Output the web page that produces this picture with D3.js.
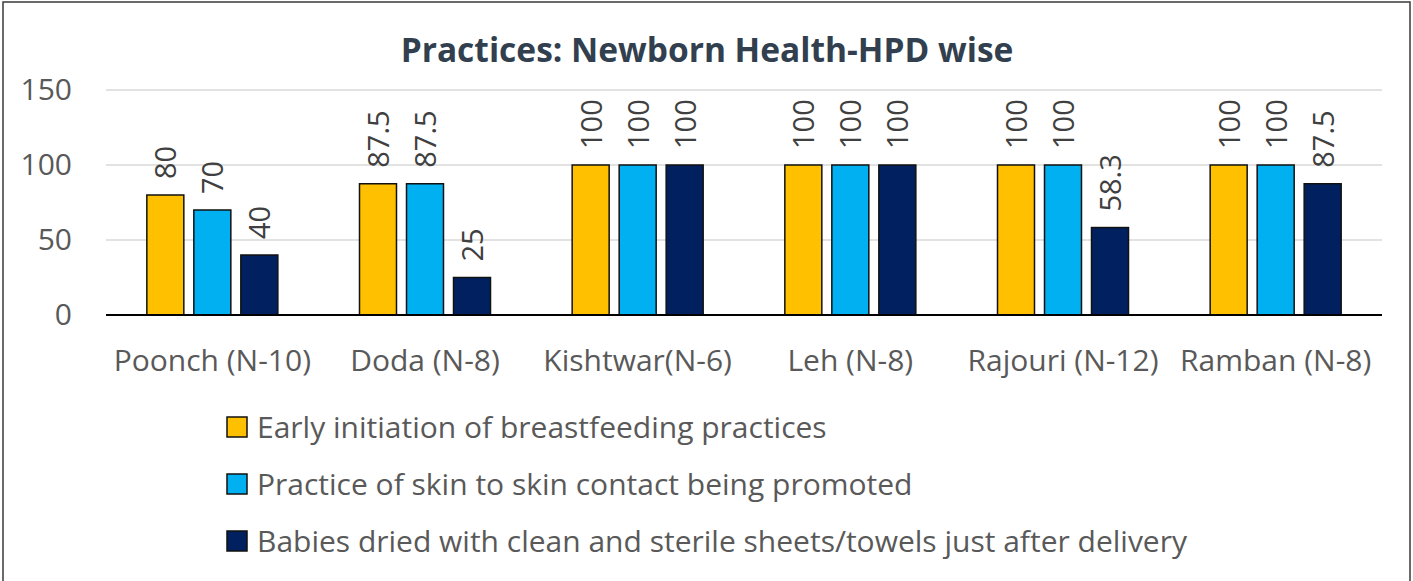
<!DOCTYPE html>
<html>
<head>
<meta charset="utf-8">
<script src="https://cdn.jsdelivr.net/npm/d3@7"></script>
<style>
  body { margin: 0; background: #fff; }
  text { font-family: "Open Sans", "Noto Sans", sans-serif; }
</style>
</head>
<body>
<div id="chart"></div>
<script>
const width = 1413;
const height = 581;
const margin = [90, 31, 266, 106]; // top, right, bottom, left

const districts = ["Poonch (N-10)", "Doda (N-8)", "Kishtwar(N-6)", "Leh (N-8)", "Rajouri (N-12)", "Ramban (N-8)"];
const seriesNames = [
  "Early initiation of breastfeeding practices",
  "Practice of skin to skin contact being promoted",
  "Babies dried with clean and sterile sheets/towels just after delivery"
];
const breastfeeding = [80, 87.5, 100, 100, 100, 100];
const skinToSkin = [70, 87.5, 100, 100, 100, 100];
const driedBabies = [40, 25, 100, 100, 58.3, 87.5];
const yTicks = [0, 50, 100, 150];
const colors = ["#FFC000", "#00B0F0", "#002060"];

const series = [breastfeeding, skinToSkin, driedBabies];
const groupWidth = 131;

const svg = d3.select("#chart").append("svg")
  .attr("width", width)
  .attr("height", height);

// frame
svg.append("rect")
  .attr("x", 3).attr("y", 2)
  .attr("width", width - 6).attr("height", height + 10)
  .attr("fill", "none")
  .attr("stroke", "#3a3a3a")
  .attr("stroke-width", 1.5);

const x0 = d3.scaleBand()
  .domain(districts)
  .range([margin[3], width - margin[1]]);

const x1 = d3.scaleBand()
  .domain(d3.range(series.length))
  .range([0, groupWidth])
  .paddingInner(0.213)
  .paddingOuter(0);

const y = d3.scaleLinear()
  .domain([0, 150])
  .range([height - margin[2], margin[0]]);

// gridlines
svg.append("g")
  .selectAll("line")
  .data(yTicks.filter(d => d > 0))
  .enter()
  .append("line")
  .attr("x1", margin[3])
  .attr("x2", width - margin[1])
  .attr("y1", d => y(d))
  .attr("y2", d => y(d))
  .attr("stroke", "#d9d9d9")
  .attr("stroke-width", 1.5);

// y axis labels
const yAxis = d3.axisLeft(y).tickValues(yTicks).tickSize(0).tickPadding(34);
svg.append("g")
  .attr("transform", "translate(" + margin[3] + ",0)")
  .call(yAxis)
  .call(g => g.select(".domain").remove())
  .selectAll("text")
  .attr("font-size", 30)
  .attr("fill", "#595959")
  .attr("font-family", "Open Sans");

// bars
const groups = svg.append("g")
  .selectAll("g")
  .data(districts)
  .enter()
  .append("g")
  .attr("transform", d => "translate(" + (x0(d) + x0.bandwidth() / 2 - groupWidth / 2) + ",0)");

groups.selectAll("rect")
  .data((d, i) => series.map((s, k) => ({ k: k, v: s[i] })))
  .enter()
  .append("rect")
  .attr("x", d => x1(d.k))
  .attr("y", d => y(d.v))
  .attr("width", x1.bandwidth())
  .attr("height", d => y(0) - y(d.v))
  .attr("fill", d => colors[d.k])
  .attr("stroke", "#111")
  .attr("stroke-width", 1.5);

groups.selectAll(".lbl")
  .data((d, i) => series.map((s, k) => ({ k: k, v: s[i] })))
  .enter()
  .append("text")
  .attr("class", "lbl")
  .attr("transform", d => "translate(" + (x1(d.k) + x1.bandwidth() / 2 + 11) + "," + (y(d.v) - 16) + ") rotate(-90)")
  .attr("font-size", 29)
  .attr("fill", "#404040")
  .text(d => d.v);

// x axis line
svg.append("line")
  .attr("x1", margin[3])
  .attr("x2", width - margin[1])
  .attr("y1", y(0))
  .attr("y2", y(0))
  .attr("stroke", "#000")
  .attr("stroke-width", 2);

// category labels
svg.append("g")
  .selectAll("text")
  .data(districts)
  .enter()
  .append("text")
  .attr("x", d => x0(d) + x0.bandwidth() / 2)
  .attr("y", 371)
  .attr("text-anchor", "middle")
  .attr("font-size", 30)
  .attr("fill", "#595959")
  .text(d => d);

// title
svg.append("text")
  .attr("x", 707)
  .attr("y", 62)
  .attr("text-anchor", "middle")
  .attr("font-size", 33.5)
  .attr("font-weight", "bold")
  .attr("fill", "#323F4F")
  .text("Practices: Newborn Health-HPD wise");

// legend
const legend = svg.append("g")
  .selectAll("g")
  .data(seriesNames)
  .enter()
  .append("g")
  .attr("transform", (d, i) => "translate(227," + (417 + i * 57) + ")");

legend.append("rect")
  .attr("width", 20)
  .attr("height", 20)
  .attr("fill", (d, i) => colors[i])
  .attr("stroke", "#111")
  .attr("stroke-width", 1.5);

legend.append("text")
  .attr("x", 30)
  .attr("y", 21)
  .attr("font-size", 30)
  .attr("fill", "#595959")
  .text(d => d);
</script>
</body>
</html>
